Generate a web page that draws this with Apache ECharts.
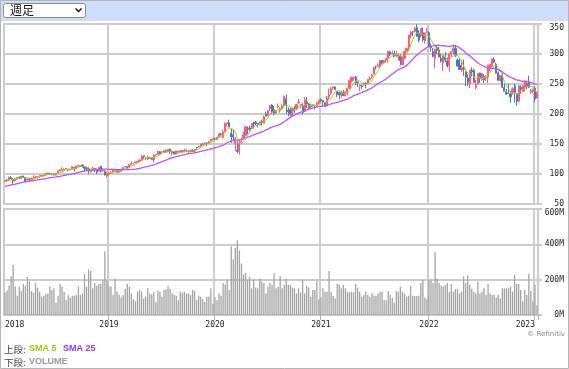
<!DOCTYPE html>
<html><head><meta charset="utf-8">
<script src="https://cdn.jsdelivr.net/npm/echarts@6/dist/echarts.min.js"></script>
<style>html,body{margin:0;padding:0;background:#fff}#c{width:569px;height:369px}</style>
</head><body><div id="c"></div>
<script>
// Weekly rows: [open, high, low, close] (week ending Friday), first week ends 2018-01-12
const firstWeekEnd = '2018-01-12';
// 24 weekly closes before the first shown week (for moving averages)
const priorCloses = [73.0,72.7,72.5,72.5,73.0,73.9,73.0,75.3,74.4,74.5,76.3,77.5,78.8,83.8,84.1,84.2,82.4,83.3,84.3,84.2,86.9,85.5,85.5,88.2];

const weeks2018 = [
[88.2,89.8,87.1,89.6],[90.1,90.8,88.0,90.0],[90.0,95.4,89.9,94.1],[93.8,96.1,91.5,91.8],[90.6,93.2,83.8,88.2],
[88.5,93.0,88.0,92.0],[92.0,94.2,90.6,94.1],[94.3,95.9,91.2,93.3],[92.3,96.6,91.3,96.5],[96.5,97.2,93.6,94.6],
[94.7,94.7,87.1,87.2],[90.6,93.8,87.5,91.3],[90.5,93.3,87.7,90.2],[91.0,94.0,90.0,93.1],[93.3,97.9,93.0,95.0],
[95.0,95.9,92.0,95.8],[95.0,95.9,92.4,95.2],[95.0,98.0,94.0,97.7],[97.0,98.0,95.8,96.4],[97.0,98.9,96.7,98.4],
[98.3,100.9,98.0,100.8],[101.0,102.7,100.0,101.6],[101.0,102.0,99.5,100.1],[100.4,102.0,98.0,100.4],[99.5,100.0,97.3,98.6],
[98.1,102.0,97.5,101.2],[101.6,105.6,101.4,105.4],[105.4,108.2,104.3,106.3],[106.3,111.2,104.7,107.7],[106.0,109.6,104.8,108.0],
[109.0,110.0,108.0,109.0],[108.0,108.5,104.8,107.6],[107.7,108.6,105.5,107.7],[108.0,112.8,107.8,112.3],[110.9,111.0,104.4,108.2],
[108.8,113.6,108.0,113.4],[113.0,115.3,111.5,114.3],[113.0,115.0,112.0,114.4],[114.8,116.2,110.6,112.1],[111.7,111.8,104.2,109.6],
[108.9,111.8,106.1,107.8],[108.0,111.2,100.1,106.96],[103.7,107.3,102.4,106.5],[106.4,112.2,106.2,109.6],[109.0,109.0,103.2,108.3],
[108.3,108.6,99.4,103.1],[104.8,112.0,104.5,110.9],[113.0,113.4,102.4,104.8],[104.8,109.5,103.6,106.0],[105.0,106.9,97.5,98.2],
[97.7,102.4,93.96,101.6]
];
const weeks2019 = [
[99.6,103.0,97.2,102.1],[101.6,104.9,101.0,102.8],[102.5,107.9,101.3,107.7],[107.0,107.9,104.9,107.2],[106.3,107.0,102.3,102.8],
[102.9,107.3,102.1,105.7],[104.4,108.3,104.0,108.2],[107.8,110.9,106.3,110.97],[111.8,113.2,110.8,112.5],[112.3,113.0,108.8,110.5],
[109.9,115.9,109.6,115.9],[116.2,120.8,115.9,117.1],[117.9,118.7,115.8,117.9],[118.95,120.2,118.0,119.9],[119.8,121.5,119.3,120.95],
[121.0,124.2,120.4,123.4],[122.6,131.4,122.6,129.9],[130.5,130.7,125.5,128.9],[127.0,127.9,123.1,127.1],[124.9,130.5,123.0,128.1],
[126.9,128.0,124.7,126.2],[126.9,127.5,123.6,123.7],[123.9,132.0,119.0,131.4],[132.0,133.8,130.5,132.5],[132.6,139.0,132.4,136.97],
[137.0,138.4,132.8,133.96],[136.6,137.7,135.7,137.1],[136.0,139.2,135.0,138.9],[138.9,140.7,135.2,136.6],[137.0,141.7,136.3,141.3],
[141.5,141.7,133.5,136.9],[135.0,139.0,130.8,137.7],[137.0,138.5,132.6,133.4],[138.5,138.7,132.9,133.4],[134.9,138.4,134.3,137.9],
[136.6,140.4,135.6,139.1],[139.1,139.4,135.8,137.3],[137.0,142.4,136.3,139.4],[138.9,141.0,136.7,137.7],[138.0,140.0,133.2,138.1],
[137.1,140.0,136.6,139.7],[140.0,141.6,136.4,137.4],[138.0,141.1,135.0,140.7],[144.3,144.4,140.6,143.7],[144.8,146.4,143.8,145.96],
[146.3,150.0,145.1,149.97],[150.0,151.3,148.4,149.6],[150.5,152.5,149.4,151.4],[151.8,152.0,146.7,151.75],[151.5,154.9,150.6,154.5],
[155.0,158.5,154.3,157.4],[157.4,159.0,157.0,158.96]
];
const weeks2020 = [
[158.8,160.7,156.5,158.6],[157.1,161.5,156.5,161.3],[161.8,167.5,161.2,167.1],[166.7,168.2,164.3,165.0],[161.2,174.05,159.3,170.2],
[170.4,185.8,170.1,183.9],[183.6,186.0,179.6,185.35],[185.6,190.7,177.8,178.6],[167.8,175.0,152.0,162.0],[165.3,175.0,156.5,161.6],
[151.0,161.9,138.6,158.8],[140.0,155.0,135.0,137.35],[137.0,158.0,132.5,149.7],[152.4,160.6,150.4,153.8],[160.3,170.0,158.2,165.1],
[164.4,180.2,164.1,178.6],[176.6,179.5,166.4,174.55],[176.6,180.8,171.8,174.57],[175.4,185.0,174.8,184.7],[186.3,187.1,175.7,183.2],
[185.8,188.3,181.3,183.5],[184.3,184.4,177.4,183.25],[182.6,187.7,181.1,187.2],[188.0,190.8,180.5,187.7],[184.6,197.7,184.2,195.15],
[199.7,203.95,196.0,196.3],[197.9,206.3,196.4,205.5],[208.8,214.7,205.0,213.7],[214.8,216.4,200.0,202.9],[207.2,213.3,197.5,201.3],
[201.5,206.0,200.0,205.0],[211.5,217.6,209.4,212.5],[206.0,211.0,202.0,208.9],[209.4,216.5,207.5,213.0],[214.8,231.1,212.0,228.9],
[225.5,232.9,200.1,214.25],[206.5,211.0,196.3,204.0],[207.2,209.8,196.9,200.4],[197.2,210.0,196.7,209.4],[208.0,213.0,202.0,206.2],
[208.8,217.0,206.5,215.8],[218.8,225.2,217.0,219.7],[215.0,216.3,209.1,216.2],[214.0,218.0,199.6,202.5],[204.3,228.1,203.1,223.7],
[219.9,228.1,209.8,216.5],[216.9,217.1,207.0,210.4],[212.0,217.0,210.0,215.2],[214.1,216.4,211.9,214.4],[214.4,215.8,207.5,213.3],
[214.2,220.0,212.0,218.6],[218.5,223.6,216.3,222.75]
];
const weeks2021 = [
[224.45,226.0,219.7,222.4],[222.5,223.0,211.9,219.6],[218.5,218.9,211.9,212.65],[213.75,230.1,212.6,225.95],[229.1,242.6,224.2,231.96],
[235.1,245.1,232.4,242.2],[243.2,245.9,240.8,244.99],[245.0,246.1,240.1,240.97],[237.4,237.9,227.9,232.4],[235.9,237.5,224.3,231.6],
[231.4,239.2,227.1,235.75],[234.96,240.1,230.1,230.35],[230.3,238.5,229.35,236.5],[236.6,242.8,231.1,242.35],[242.8,255.9,241.1,255.85],
[254.7,261.0,252.2,260.7],[260.2,261.5,255.6,261.15],[261.7,263.2,248.3,252.2],[253.4,254.35,244.7,252.5],[246.5,248.8,238.1,248.15],
[246.55,248.3,241.95,245.2],[247.8,252.9,247.5,249.7],[251.2,252.9,243.0,250.8],[249.98,257.9,249.8,257.9],[257.9,262.3,256.7,259.4],
[262.0,267.0,258.9,265.0],[266.2,278.0,266.1,277.65],[278.0,280.7,274.5,277.9],[279.2,284.1,279.0,280.75],[278.9,289.99,275.9,289.67],
[288.99,290.2,282.75,284.9],[286.4,289.6,283.7,289.46],[289.75,292.9,285.2,292.85],[293.2,305.8,285.1,304.36],[303.25,305.3,296.8,299.72],
[301.1,305.3,300.6,301.14],[301.0,305.8,295.4,295.7],[297.55,305.3,295.1,299.87],[296.3,300.4,289.1,299.35],[296.1,299.8,281.6,289.1],
[282.1,296.6,281.6,294.85],[292.9,304.45,292.4,304.2],[305.0,311.1,303.7,309.16],[310.4,332.0,305.0,331.6],[331.4,338.8,326.1,336.06],
[337.1,338.0,329.9,336.72],[337.5,345.1,335.7,343.11],[344.6,349.67,329.1,329.68],[334.9,339.3,320.0,323.0],[330.6,343.0,328.0,342.54],
[335.3,344.3,319.5,323.8],[321.9,336.0,317.3,334.69],[335.5,343.8,335.1,336.32]
];
const weeks2022 = [
[335.35,338.0,311.4,314.04],[313.15,317.0,303.75,310.2],[304.1,309.9,294.3,296.03],[292.2,308.5,276.05,308.26],[310.4,315.1,299.97,305.94],
[306.2,311.9,294.0,295.04],[293.05,301.0,285.9,287.93],[285.0,297.6,271.5,297.27],[294.7,303.1,286.2,289.86],[288.5,294.0,277.5,280.07],
[280.3,300.7,270.0,300.43],[298.9,305.0,295.5,303.68],[304.3,315.95,299.5,309.42],[309.4,315.1,295.0,296.97],[289.9,292.4,279.3,279.83],
[281.7,293.3,273.4,274.03],[273.3,289.9,270.0,277.52],[277.7,290.9,263.1,274.73],[270.3,272.4,246.4,261.12],[259.96,266.0,246.4,252.56],
[250.3,273.3,243.0,273.24],[272.5,277.7,263.0,270.02],[273.0,274.8,252.5,252.99],[243.9,256.5,241.5,247.65],[250.3,267.98,248.3,267.7],
[268.3,269.1,252.0,259.58],[257.6,268.7,255.0,267.66],[262.6,266.5,251.8,256.72],[259.9,264.9,255.3,260.36],[261.5,281.7,251.3,280.74],
[277.8,283.65,272.0,282.91],[279.6,292.4,277.5,291.91],[291.0,294.2,286.4,286.15],[283.0,285.1,267.7,268.09],[268.6,271.0,255.7,256.06],
[255.5,264.7,253.9,264.46],[263.9,267.45,243.3,244.74],[244.3,250.0,237.5,237.92],[236.8,241.7,232.7,232.9],[235.4,250.4,233.9,234.24],
[233.8,238.4,219.1,228.56],[236.0,244.6,232.0,242.12],[247.3,251.0,219.1,235.87],[233.8,234.9,213.43,221.39],[221.1,247.99,219.3,247.11],
[244.7,247.99,233.7,241.22],[237.0,248.0,236.5,247.58],[243.7,256.0,237.3,255.02],[250.8,253.0,241.5,245.42],[252.2,263.92,243.0,244.69],
[236.1,242.0,233.6,238.73],[238.2,242.6,235.5,239.82]
];
const weeks2023 = [[243.1,246.2,219.35,224.93],[226.45,237.0,226.4,235.8]];

// weekly volume, millions of shares
const volume2018 = [128,138,165,219,283,161,109,161,136,175,165,215,190,136,126,181,155,132,103,109,118,122,161,142,151,70,109,177,161,132,84,113,97,109,109,113,161,113,122,233,161,258,249,151,181,165,175,177,200,361,194];
const volume2019 = [161,161,113,206,132,113,101,113,148,175,161,122,89,78,132,142,132,93,103,151,122,118,132,74,138,132,103,142,146,165,148,122,113,109,84,132,125,132,122,122,113,142,136,84,109,103,89,74,103,103,151,64];
const volume2020 = [100,84,122,109,181,171,200,142,388,316,380,423,365,291,229,239,200,215,151,200,155,151,206,190,181,122,161,181,171,235,151,160,219,151,171,206,171,171,155,151,122,151,126,200,122,165,155,103,142,142,194,89];
const volume2021 = [100,151,132,132,249,132,107,93,175,171,151,171,151,132,128,132,128,175,155,132,103,113,132,113,103,122,110,107,122,132,132,84,84,136,113,97,70,136,132,161,132,122,103,109,165,109,107,107,109,181,200,97,89];
const volume2022 = [200,200,181,355,206,181,167,161,171,181,130,175,132,146,148,122,132,219,181,225,171,148,132,122,190,122,132,151,113,175,122,113,113,97,113,93,151,151,151,151,161,132,229,175,175,142,78,142,113,233,136,78];
const volume2023 = [171,54];

const priceTicks = [50,100,150,200,250,300,350];
const volumeTicks = [0,200,400,600];
const smaPeriods = [5,25];

const rows = [].concat(weeks2018,weeks2019,weeks2020,weeks2021,weeks2022,weeks2023);
const volumes = [].concat(volume2018,volume2019,volume2020,volume2021,volume2022,volume2023);
const N = rows.length;
const t0 = Date.parse(firstWeekEnd + 'T00:00:00Z');
const dates = [];
for (let i = 0; i < N; i++) dates.push(new Date(t0 + i*7*86400000).toISOString().slice(0,10));
const closes = rows.map(r => r[3]);
const allCloses = priorCloses.concat(closes);
function sma(n){
  const out=[];
  for(let i=0;i<N;i++){
    const end=i+priorCloses.length; let s=0;
    for(let k=end-n+1;k<=end;k++) s+=allCloses[k];
    out.push(+(s/n).toFixed(2));
  }
  return out;
}
const sma5 = sma(smaPeriods[0]), sma25 = sma(smaPeriods[1]);
const candleData = rows.map(r => [r[0], r[3], r[2], r[1]]);

const isYearStart = (i) => i > 0 && dates[i].slice(0,4) !== dates[i-1].slice(0,4);
const showLabel = (i) => i === 0 || isYearStart(i);

const gridColor = '#cccccc';
const axisFont = {fontFamily:'DejaVu Sans Mono', fontSize:8, color:'#222'};

const chart = echarts.init(document.getElementById('c'), null, {renderer:'canvas'});
chart.setOption({
  animation:false,
  backgroundColor:'#ffffff',
  grid:[
    {left:4, top:24, width:534, height:180, show:true, borderColor:gridColor, borderWidth:2, backgroundColor:'transparent'},
    {left:4, top:209, width:534, height:106, show:true, borderColor:gridColor, borderWidth:2, backgroundColor:'transparent'}
  ],
  xAxis:[
    {type:'category', gridIndex:0, data:dates, boundaryGap:true,
     axisLine:{show:false}, axisTick:{show:false}, axisLabel:{show:false},
     splitLine:{show:true, interval:(i)=>isYearStart(i), lineStyle:{color:gridColor, width:2}}},
    {type:'category', gridIndex:1, data:dates, boundaryGap:true,
     axisLine:{show:false},
     axisTick:{show:true, interval:(i)=>isYearStart(i), length:5, lineStyle:{color:'#b0b0b0', width:1}},
     axisLabel:Object.assign({show:true, interval:(i)=>showLabel(i), margin:6,
        formatter:(v)=>v.slice(0,4), alignMinLabel:'left', alignMaxLabel:'right', hideOverlap:false}, axisFont),
     splitLine:{show:true, interval:(i)=>isYearStart(i), lineStyle:{color:gridColor, width:2}}}
  ],
  yAxis:[
    {type:'value', gridIndex:0, position:'right', min:priceTicks[0], max:priceTicks[priceTicks.length-1], interval:priceTicks[1]-priceTicks[0],
     axisLine:{show:false}, axisTick:{show:true, length:4, lineStyle:{color:gridColor, width:2}},
     axisLabel:Object.assign({align:'right', margin:26, verticalAlignMaxLabel:'top'}, axisFont),
     splitLine:{show:true, lineStyle:{color:gridColor, width:2}}},
    {type:'value', gridIndex:1, position:'right', min:volumeTicks[0], max:volumeTicks[volumeTicks.length-1], interval:volumeTicks[1]-volumeTicks[0],
     axisLine:{show:false}, axisTick:{show:true, length:4, lineStyle:{color:gridColor, width:2}},
     axisLabel:Object.assign({align:'right', margin:26, verticalAlignMaxLabel:'top', formatter:(v)=>v+'M'}, axisFont),
     splitLine:{show:true, lineStyle:{color:gridColor, width:2}}}
  ],
  series:[
    {type:'candlestick', xAxisIndex:0, yAxisIndex:0, data:candleData, barWidth:1.6,
     itemStyle:{color:'#ff5a7a', color0:'#4f74c8', borderColor:'#ff5a7a', borderColor0:'#4f74c8', borderWidth:1}},
    {type:'line', name:'SMA 5', xAxisIndex:0, yAxisIndex:0, data:sma5, showSymbol:false, symbol:'none',
     lineStyle:{color:'#a8d400', width:1}, z:3},
    {type:'line', name:'SMA 25', xAxisIndex:0, yAxisIndex:0, data:sma25, showSymbol:false, symbol:'none',
     lineStyle:{color:'#c050ff', width:1.3}, z:3},
    {type:'bar', name:'VOLUME', xAxisIndex:1, yAxisIndex:1, data:volumes, barWidth:1.3,
     itemStyle:{color:'#a3a3a3'}}
  ],
  graphic:[
    {type:'rect', shape:{x:0, y:0, width:569, height:21}, style:{fill:'#cfddfb'}, z:0, silent:true},
    {type:'rect', shape:{x:0.5, y:0.5, width:568, height:368}, style:{fill:'none', stroke:'#b4b4b4', lineWidth:1}, z:100, silent:true},
    {type:'rect', shape:{x:3.5, y:3.5, width:82, height:14, r:2}, style:{fill:'#ffffff', stroke:'#8a8a8a', lineWidth:1}, z:10},
    {type:'text', x:10, y:10.5, style:{text:'週足', font:'12px "Noto Sans CJK JP"', fill:'#111', verticalAlign:'middle', textVerticalAlign:'middle'}, z:11},
    {type:'polyline', shape:{points:[[75.5,8.5],[78.5,11.5],[81.5,8.5]]}, style:{stroke:'#111', lineWidth:1.5, fill:'none'}, z:11},
    {type:'text', x:565, y:334, style:{text:'© Refinitiv', font:'7px "DejaVu Sans"', fill:'#888', align:'right', textAlign:'right', verticalAlign:'middle', textVerticalAlign:'middle'}},
    {type:'text', x:4, y:349, style:{text:'上段:', font:'9.5px "Noto Sans CJK JP"', fill:'#444', verticalAlign:'middle', textVerticalAlign:'middle'}},
    {type:'text', x:29, y:349, style:{text:'SMA 5', font:'bold 9px "Liberation Sans"', fill:'#99cc00', verticalAlign:'middle', textVerticalAlign:'middle'}},
    {type:'text', x:63, y:349, style:{text:'SMA 25', font:'bold 9px "Liberation Sans"', fill:'#9933ff', verticalAlign:'middle', textVerticalAlign:'middle'}},
    {type:'text', x:4, y:362, style:{text:'下段:', font:'9.5px "Noto Sans CJK JP"', fill:'#444', verticalAlign:'middle', textVerticalAlign:'middle'}},
    {type:'text', x:29, y:362, style:{text:'VOLUME', font:'bold 9px "Liberation Sans"', fill:'#999999', verticalAlign:'middle', textVerticalAlign:'middle'}}
  ]
});
</script></body></html>
